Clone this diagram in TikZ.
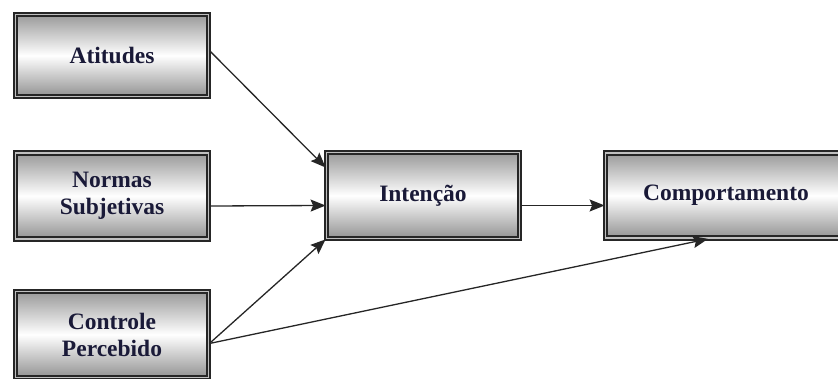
\documentclass[tikz,border=0pt]{standalone}
\usepackage{fontspec}
\setmainfont{Liberation Serif}
\usetikzlibrary{arrows.meta,shadings}
\definecolor{txt}{HTML}{1A1A38}
\begin{document}
\begin{tikzpicture}[x=1pt,y=-1pt,
  box/.style={draw=black!85, line width=1.8pt, double=gray!50, double distance=1.8pt,
    top color=gray!80, bottom color=gray!85, middle color=white,
    minimum width=193pt, minimum height=84pt, inner sep=0pt, align=center,
    font=\fontsize{23.5}{27}\selectfont\bfseries, text=txt},
  arr/.style={-{Stealth[length=15pt,width=12pt,inset=2.5pt]}, line width=1.3pt, black!85}]
\useasboundingbox (0,0) rectangle (838,379);
\clip (0,0) rectangle (838,379);
\node[box, minimum height=82pt] (att) at (112,55.5) {Atitudes};
\node[box, minimum height=86pt] (nor) at (112,196) {Normas\\Subjetivas};
\node[box, minimum height=86pt] (con) at (112,334.5) {Controle\\Percebido};
\node[box, minimum height=86pt] (int) at (423,195.5) {Intenção};
\node[box, minimum height=85pt, minimum width=241pt] (com) at (726,195.5) {Comportamento};
\draw[arr] ([yshift=5pt]att.east) -- ([yshift=28pt]int.west);
\draw[arr] ([yshift=-10pt]nor.east) -- ([yshift=-10pt]int.west);
\draw[arr] ([yshift=-9pt]con.east) -- (int.south west);
\draw[arr] ([yshift=-9pt]con.east) -- ([xshift=-18pt]com.south);
\draw[arr] ([yshift=-10pt]int.east) -- ([yshift=-10pt]com.west);
\end{tikzpicture}
\end{document}
